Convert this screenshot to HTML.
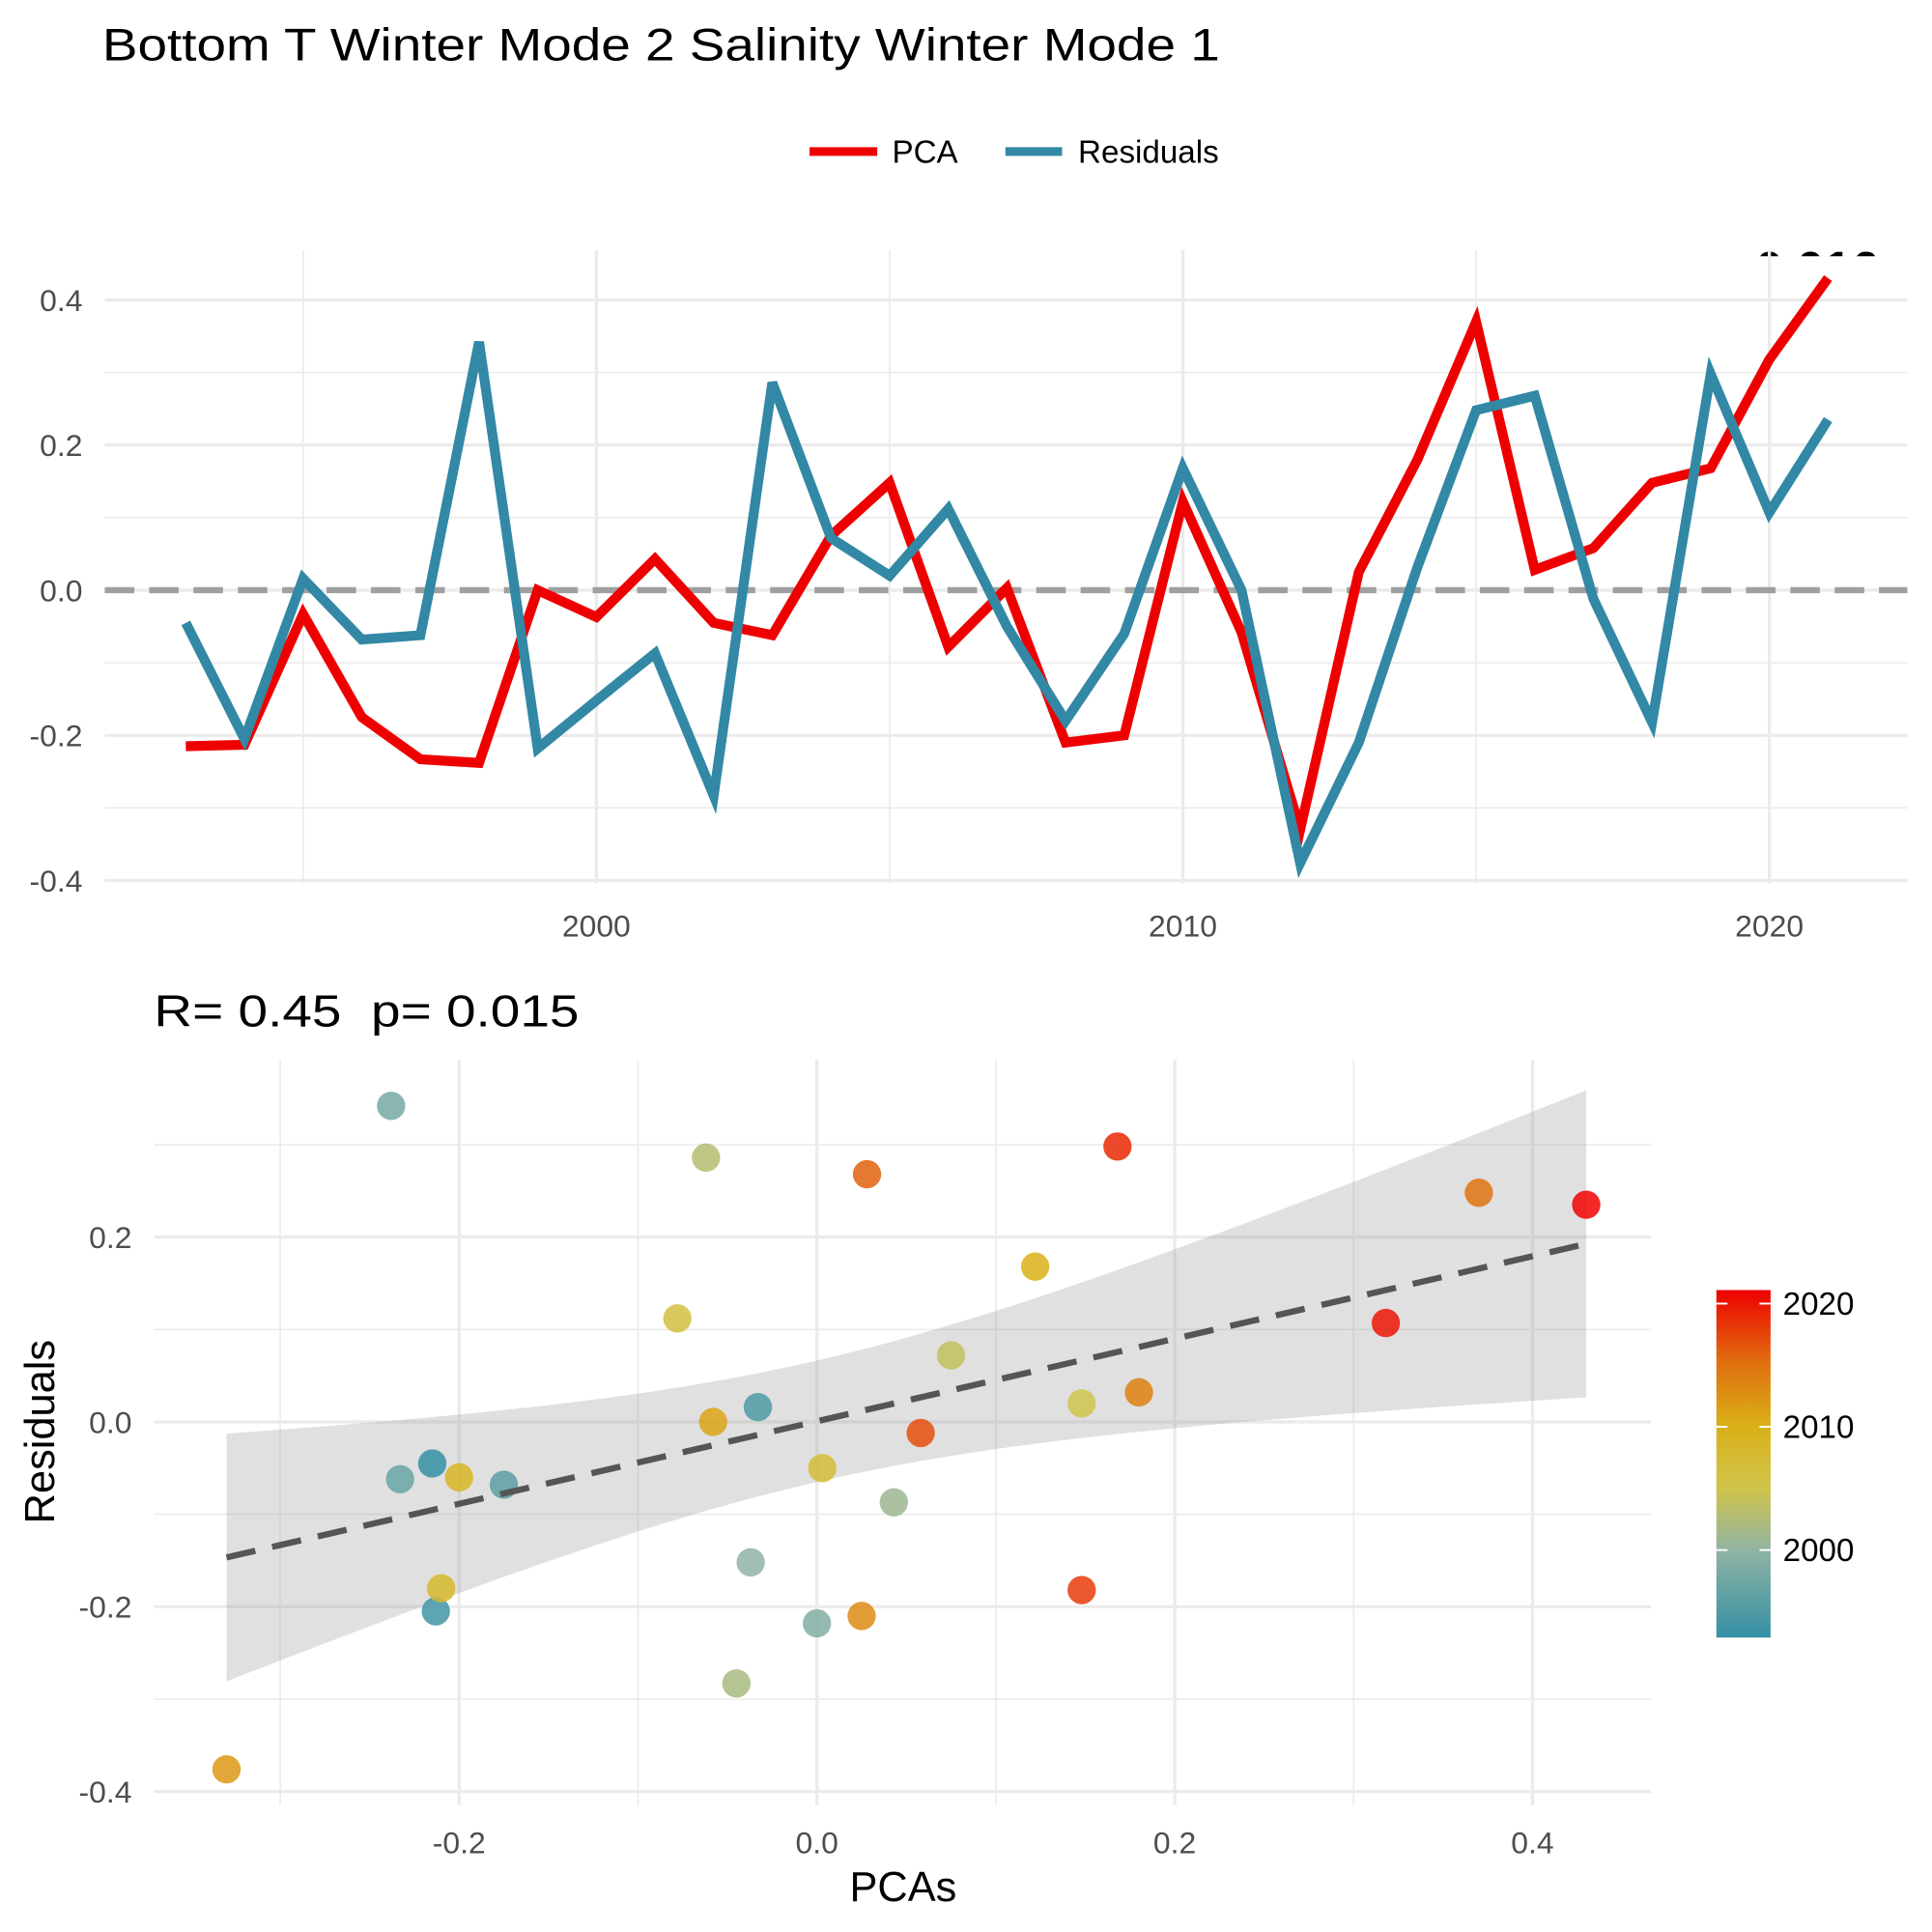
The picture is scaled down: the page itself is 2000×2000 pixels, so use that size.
<!DOCTYPE html>
<html><head><meta charset="utf-8"><style>
html,body{margin:0;padding:0;background:#fff;}
svg{display:block;font-family:"Liberation Sans",Arial,sans-serif;}
text{white-space:pre;}
</style></head><body>
<svg id="chart" width="2000" height="2000" viewBox="0 0 1568 1568" xmlns="http://www.w3.org/2000/svg">
<defs>
<clipPath id="topclip"><rect x="85" y="203" width="1463" height="515"/></clipPath>
<clipPath id="titleclip"><rect x="1300" y="150" width="268" height="58"/></clipPath>
<linearGradient id="cbar" x1="0" y1="1" x2="0" y2="0">
<stop offset="0" stop-color="#3490A5"/><stop offset="0.25" stop-color="#8FB3A3"/>
<stop offset="0.43" stop-color="#D0C44A"/><stop offset="0.61" stop-color="#D9B018"/>
<stop offset="0.79" stop-color="#E0700F"/><stop offset="1" stop-color="#EE0000"/></linearGradient>
</defs>
<text x="83" y="49" font-size="37" fill="#000" textLength="907" lengthAdjust="spacingAndGlyphs">Bottom T Winter Mode 2 Salinity Winter Mode 1</text>
<g>
<line x1="657" y1="123" x2="712" y2="123" stroke="#EE0000" stroke-width="7"/>
<text x="724" y="132" font-size="26" fill="#000">PCA</text>
<line x1="816" y1="123" x2="862" y2="123" stroke="#3288A5" stroke-width="7"/>
<text x="875" y="132" font-size="26" fill="#000">Residuals</text>
</g>
<g clip-path="url(#titleclip)"><text x="1366" y="232" font-size="40" font-weight="bold" fill="#000">p= 0.016</text></g>
<g id="topPanel"></g>
<text x="125" y="833" font-size="36" fill="#000" textLength="345" lengthAdjust="spacingAndGlyphs">R= 0.45  p= 0.015</text>
<g id="botPanel"></g>
<text transform="translate(44,1162) rotate(-90)" text-anchor="middle" font-size="34" fill="#000">Residuals</text>
<text x="733" y="1543" text-anchor="middle" font-size="34" fill="#000">PCAs</text>
<g>
<rect x="1393" y="1047" width="44" height="282" fill="url(#cbar)"/>
<g id="cbticks"></g>
</g>
</svg>
<script>
const years=[1993,1994,1995,1996,1997,1998,1999,2000,2001,2002,2003,2004,2005,2006,2007,2008,2009,2010,2011,2012,2013,2014,2015,2016,2017,2018,2019,2020,2021];
const pca=[-0.215,-0.213,-0.033,-0.175,-0.233,-0.238,0.0,-0.037,0.043,-0.045,-0.062,0.075,0.148,-0.078,0.003,-0.21,-0.2,0.122,-0.058,-0.33,0.025,0.18,0.37,0.028,0.058,0.148,0.168,0.318,0.43];
const residuals=[-0.045,-0.205,0.016,-0.068,-0.062,0.342,-0.218,-0.152,-0.087,-0.283,0.286,0.072,0.02,0.112,-0.05,-0.18,-0.06,0.168,0.0,-0.376,-0.21,0.032,0.248,0.268,-0.012,-0.182,0.298,0.107,0.235];
const topYTicks=[-0.4,-0.2,0.0,0.2,0.4];
const topXTicks=[2000,2010,2020];
const botXTicks=[-0.2,0.0,0.2,0.4];
const botYTicks=[-0.4,-0.2,0.0,0.2];
const cbTicks=[2000,2010,2020];
const NS="http://www.w3.org/2000/svg";
function mk(p,t,a){const e=document.createElementNS(NS,t);for(const k in a)e.setAttribute(k,a[k]);p.appendChild(e);return e;}
function fmt(v){return v.toFixed(1).replace("-0.0","0.0");}
const FS=25;
const tx=y=>484+(y-2000)*47.6, ty=v=>479-v*589;
const tp=document.getElementById('topPanel');
const TX0=85,TX1=1548,TY0=203,TY1=717;
[-0.3,-0.1,0.1,0.3].forEach(v=>{const l=mk(tp,'line',{x1:TX0,x2:TX1,y1:ty(v),y2:ty(v),stroke:'#ebebeb','stroke-width':1.3});
});
[1995,2005,2015].forEach(v=>{const l=mk(tp,'line',{x1:tx(v),x2:tx(v),y1:TY0,y2:TY1,stroke:'#ebebeb','stroke-width':1.3});
});
topYTicks.forEach(v=>{const l=mk(tp,'line',{x1:TX0,x2:TX1,y1:ty(v),y2:ty(v),stroke:'#ebebeb','stroke-width':2.6});

const t=mk(tp,'text',{x:67,y:ty(v)+9,'text-anchor':'end','font-size':FS,fill:'#4d4d4d'});t.textContent=fmt(v);
});
topXTicks.forEach(v=>{const l=mk(tp,'line',{x1:tx(v),x2:tx(v),y1:TY0,y2:TY1,stroke:'#ebebeb','stroke-width':2.6});

const t=mk(tp,'text',{x:tx(v),y:760,'text-anchor':'middle','font-size':FS,fill:'#4d4d4d'});t.textContent=v;
});
const z=mk(tp,'line',{x1:TX0,x2:TX1,y1:ty(0),y2:ty(0),stroke:'#a0a0a0','stroke-width':5,'stroke-dasharray':'24,12'});

const gl=mk(tp,'g',{'clip-path':'url(#topclip)'});
const pl=mk(gl,'polyline',{points:years.map((y,i)=>tx(y)+','+ty(pca[i])).join(' '),fill:'none',stroke:'#EE0000','stroke-width':8});

const rl=mk(gl,'polyline',{points:years.map((y,i)=>tx(y)+','+ty(residuals[i])).join(' '),fill:'none',stroke:'#3288A5','stroke-width':8});

const bx=v=>663+v*1452, by=v=>1154-v*750;
const bp=document.getElementById('botPanel');
const BX0=125,BX1=1340,BY0=860,BY1=1465;
[-0.3,-0.1,0.1,0.3].forEach(v=>{
let l=mk(bp,'line',{x1:bx(v),x2:bx(v),y1:BY0,y2:BY1,stroke:'#ebebeb','stroke-width':1.3});

l=mk(bp,'line',{x1:BX0,x2:BX1,y1:by(v),y2:by(v),stroke:'#ebebeb','stroke-width':1.3});
});
botXTicks.forEach(v=>{const l=mk(bp,'line',{x1:bx(v),x2:bx(v),y1:BY0,y2:BY1,stroke:'#ebebeb','stroke-width':2.6});

const t=mk(bp,'text',{x:bx(v),y:1504,'text-anchor':'middle','font-size':FS,fill:'#4d4d4d'});t.textContent=fmt(v);
});
botYTicks.forEach(v=>{const l=mk(bp,'line',{x1:BX0,x2:BX1,y1:by(v),y2:by(v),stroke:'#ebebeb','stroke-width':2.6});

const t=mk(bp,'text',{x:107,y:by(v)+9,'text-anchor':'end','font-size':FS,fill:'#4d4d4d'});t.textContent=fmt(v);
});
const n=pca.length,mx=pca.reduce((a,b)=>a+b)/n,my=residuals.reduce((a,b)=>a+b)/n;
let sxx=0,sxy=0;pca.forEach((x,i)=>{sxx+=(x-mx)**2;sxy+=(x-mx)*(residuals[i]-my);});
const b1=sxy/sxx,b0=my-b1*mx;let sse=0;pca.forEach((x,i)=>{sse+=(residuals[i]-b0-b1*x)**2;});
const s=Math.sqrt(sse/(n-2)),tq=2.052;
const xmin=Math.min(...pca),xmax=Math.max(...pca);
const up=[],lo=[];
for(let k=0;k<=80;k++){const x=xmin+(xmax-xmin)*k/80,f=b0+b1*x,h=tq*s*Math.sqrt(1/n+(x-mx)**2/sxx);
up.push(bx(x)+','+by(f+h));lo.unshift(bx(x)+','+by(f-h));}
const rib=mk(bp,'polygon',{points:up.concat(lo).join(' '),fill:'#999','fill-opacity':0.3});

const stopT=[0,0.25,0.43,0.61,0.79,1];
const stopC=[[0x34,0x90,0xA5],[0x8F,0xB3,0xA3],[0xD0,0xC4,0x4A],[0xD9,0xB0,0x18],[0xE0,0x70,0x0F],[0xEE,0x00,0x00]];
function col(yr){const t=Math.max(0,Math.min(1,(yr-1993)/28.1));let i=0;while(i<stopT.length-2&&t>stopT[i+1])i++;
const f=(t-stopT[i])/(stopT[i+1]-stopT[i]);const c=stopC[i].map((v,j)=>Math.round(v+(stopC[i+1][j]-v)*f));return 'rgb('+c.join(',')+')';}
pca.forEach((x,i)=>{const c=mk(bp,'circle',{cx:bx(x),cy:by(residuals[i]),r:11.5,fill:col(years[i]),'fill-opacity':0.85});
});
const fl=mk(bp,'line',{x1:bx(xmin),y1:by(b0+b1*xmin),x2:bx(xmax),y2:by(b0+b1*xmax),stroke:'#555','stroke-width':5,'stroke-dasharray':'24,14'});

const cb=document.getElementById('cbticks');
cbTicks.forEach(v=>{const y=1258-(v-2000)*10;
let l=mk(cb,'line',{x1:1393,x2:1402,y1:y,y2:y,stroke:'#fff','stroke-width':1.5});

l=mk(cb,'line',{x1:1428,x2:1437,y1:y,y2:y,stroke:'#fff','stroke-width':1.5});

const t=mk(cb,'text',{x:1447,y:y+9,'font-size':26,fill:'#000'});t.textContent=v;
});
</script>
</body></html>
